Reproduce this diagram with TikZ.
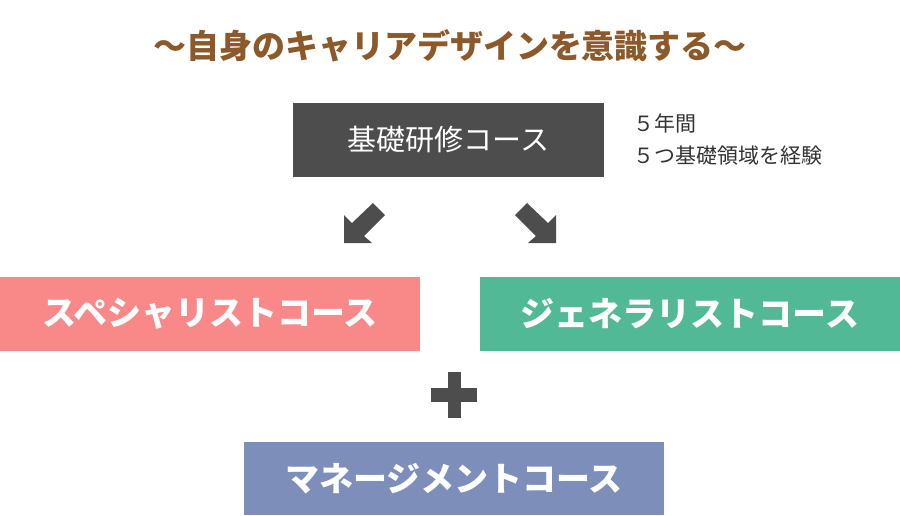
\documentclass[tikz,border=0pt]{standalone}
\usepackage{fontspec}
\setmainfont{Noto Sans CJK JP}
\usetikzlibrary{positioning}
\definecolor{titlebrown}{HTML}{8C5A2A}
\definecolor{basegray}{HTML}{4D4D4D}
\definecolor{notegray}{HTML}{333333}
\definecolor{specpink}{HTML}{F88988}
\definecolor{genegreen}{HTML}{52B996}
\definecolor{mgmtblue}{HTML}{7E8EBA}

\begin{document}
\begin{tikzpicture}[
  x=1pt, y=-1pt,
  heading/.style={inner sep=0pt, text=titlebrown, font=\fontsize{33}{39}\selectfont\bfseries},
  basebox/.style={rectangle, fill=basegray, inner sep=0pt, minimum width=311pt, minimum height=74pt, text=white, font=\fontsize{29}{35}\selectfont},
  note/.style={align=left, inner sep=0pt, text=notegray, font=\fontsize{21}{32}\selectfont},
  course/.style={rectangle, inner sep=0pt, minimum width=420pt, minimum height=74pt, text=white, font=\fontsize{34}{40}\selectfont\bfseries},
  marker/.style={fill=basegray}
  ]
  \useasboundingbox (0,0) rectangle (900,515);
  \node[heading] (title) at (450,46) {〜自身のキャリアデザインを意識する〜};
  \node[basebox] (base) at (448.5,140) {基礎研修コース};
  \node[note, right=29pt of base] (info) {５年間\\５つ基礎領域を経験};
  % the two ways to go
  \node[course, fill=specpink] (special) at (210,314) {スペシャリストコース};
  \node[course, fill=genegreen] (general) at (690,314) {ジェネラリストコース};
  \node[course, fill=mgmtblue, minimum height=73pt] (manage) at (454,478.5) {マネージメントコース};
  % arrows and plus
  \fill[marker] (344,215) -- (352,223) -- (373,203) -- (385,215) -- (364,236) -- (372,243) -- (344,243) -- cycle;
  \fill[marker] (556,215) -- (548,223) -- (527,203) -- (515,215) -- (536,236) -- (528,243) -- (556,243) -- cycle;
  \fill[marker] (447.5,372) rectangle (461,418);
  \fill[marker] (431,388) rectangle (477,402);
\end{tikzpicture}
\end{document}
